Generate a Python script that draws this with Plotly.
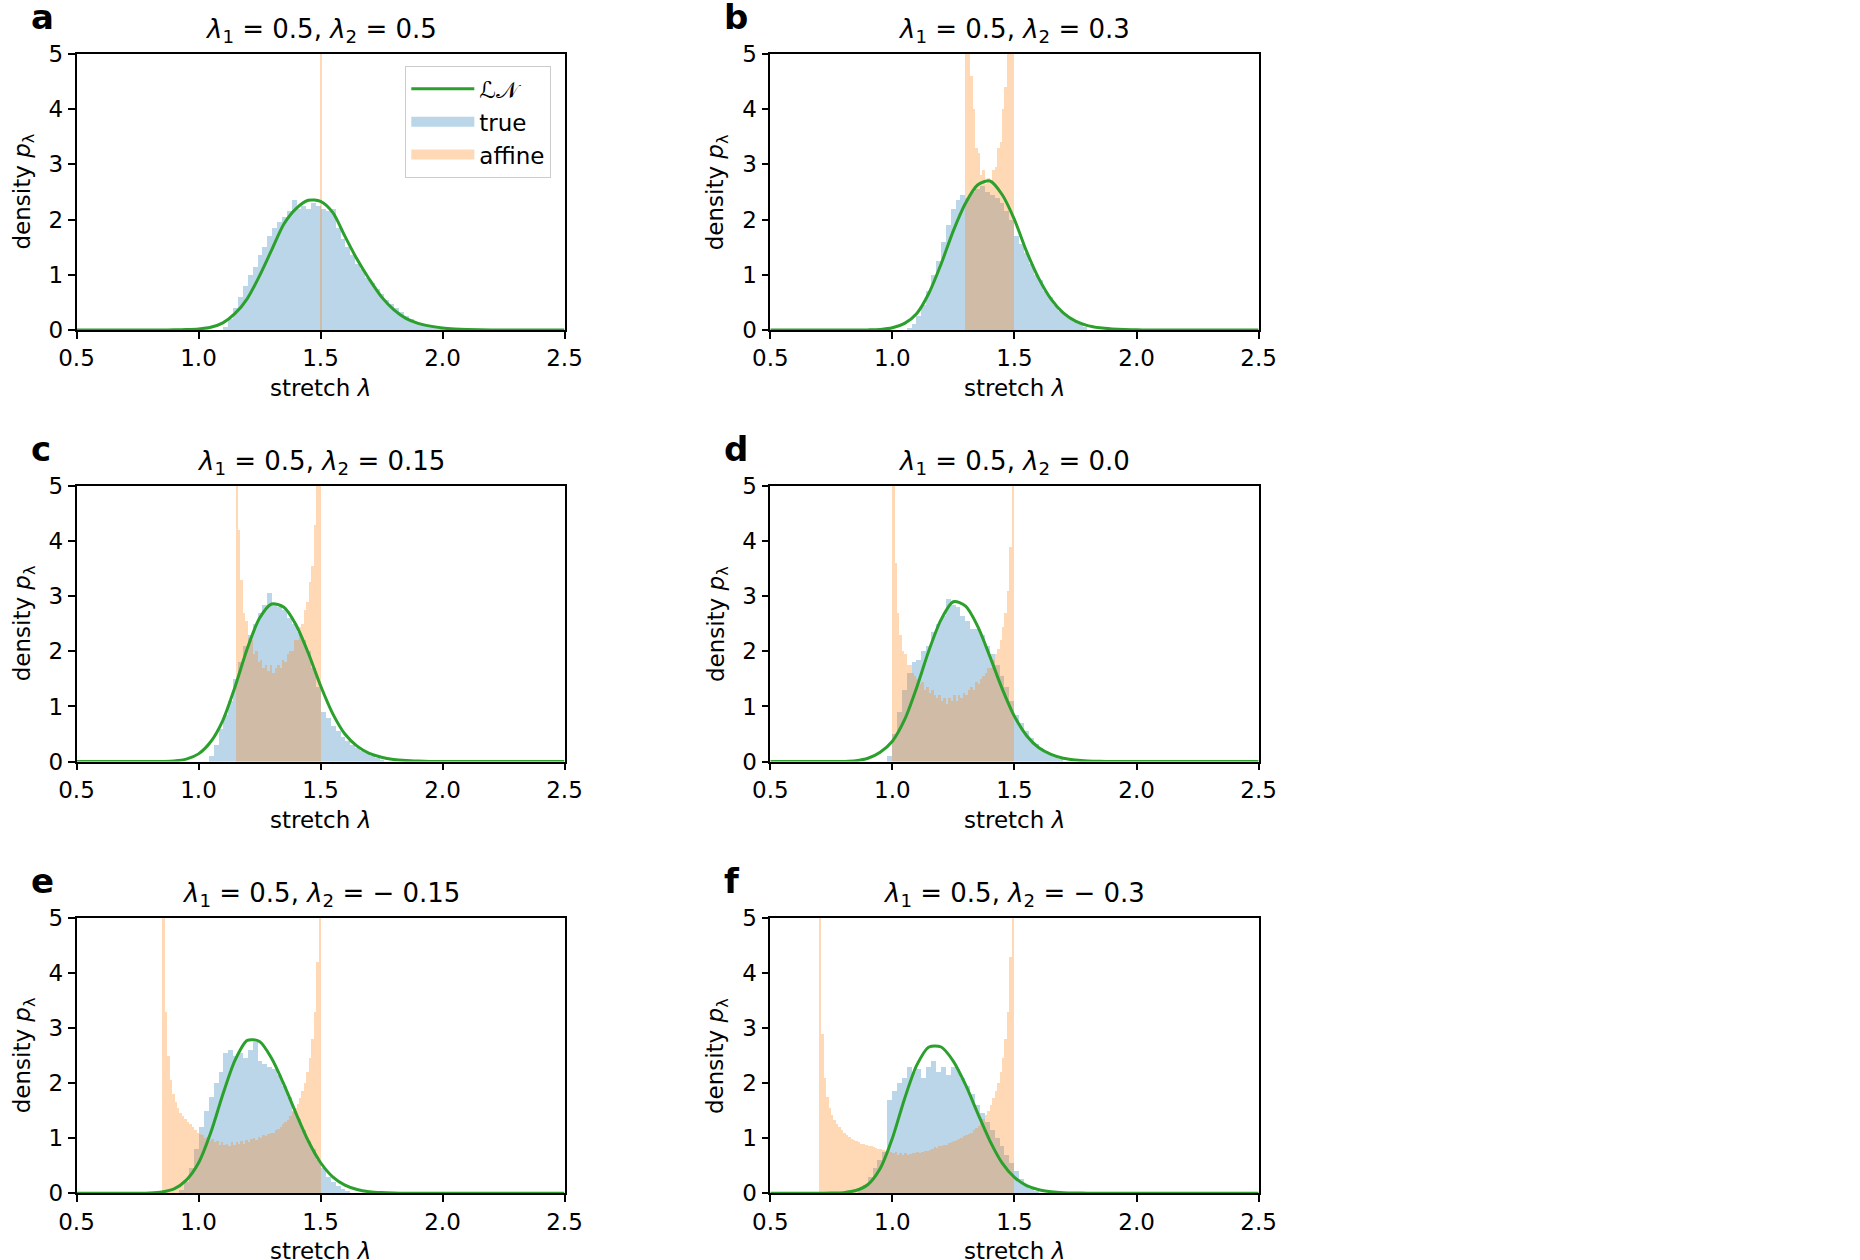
import plotly.graph_objects as go

W, H = 1860, 1260

# ---------------- data ----------------
PANEL_LETTERS = ["a", "b", "c", "d", "e", "f"]
LAMBDA1 = ["0.5", "0.5", "0.5", "0.5", "0.5", "0.5"]
LAMBDA2 = ["0.5", "0.3", "0.15", "0.0", "\u2212 0.15", "\u2212 0.3"]

X_TICKS = [0.5, 1.0, 1.5, 2.0, 2.5]
X_TICK_LABELS = ["0.5", "1.0", "1.5", "2.0", "2.5"]
Y_TICKS = [0, 1, 2, 3, 4, 5]
Y_TICK_LABELS = ["0", "1", "2", "3", "4", "5"]

LEGEND_NAMES = ["\u2112\U0001D4A9", "true", "affine"]

# log-normal fit curves, read at these stretch values
LN_X = [0.5, 0.6, 0.7, 0.75, 0.8, 0.85, 0.9, 0.95, 1.0, 1.05, 1.1, 1.15, 1.2, 1.25,
        1.3, 1.35, 1.4, 1.45, 1.5, 1.55, 1.6, 1.65, 1.7, 1.75, 1.8, 1.85, 1.9, 1.95,
        2.0, 2.05, 2.1, 2.2, 2.3, 2.4, 2.5]
LN_A = [0, 0, 0, 0, 0, 0.001, 0.003, 0.008, 0.02, 0.05, 0.13, 0.3, 0.57, 0.98,
        1.45, 1.92, 2.2, 2.35, 2.33, 2.13, 1.7, 1.28, 0.92, 0.6, 0.37, 0.21, 0.12, 0.07,
        0.035, 0.017, 0.008, 0.002, 0, 0, 0]
LN_B = [0, 0, 0, 0, 0, 0, 0.002, 0.01, 0.04, 0.12, 0.3, 0.67, 1.2, 1.8,
        2.3, 2.63, 2.7, 2.45, 2.0, 1.42, 0.93, 0.56, 0.31, 0.16, 0.08, 0.04, 0.02, 0.008,
        0.003, 0, 0, 0, 0, 0, 0]
LN_C = [0, 0, 0, 0, 0, 0.003, 0.012, 0.045, 0.14, 0.36, 0.75, 1.36, 2.05, 2.6,
        2.86, 2.8, 2.48, 1.97, 1.38, 0.87, 0.5, 0.28, 0.15, 0.08, 0.04, 0.02, 0.01, 0.004,
        0.002, 0, 0, 0, 0, 0, 0]
LN_D = [0, 0, 0, 0, 0.003, 0.015, 0.06, 0.17, 0.37, 0.76, 1.35, 2.02, 2.58, 2.9,
        2.82, 2.45, 1.9, 1.32, 0.82, 0.47, 0.25, 0.13, 0.06, 0.03, 0.013, 0.005, 0.002, 0,
        0, 0, 0, 0, 0, 0, 0]
LN_E = [0, 0, 0, 0.002, 0.007, 0.025, 0.08, 0.24, 0.55, 1.1, 1.8, 2.42, 2.78, 2.76,
        2.45, 1.98, 1.45, 0.95, 0.56, 0.3, 0.15, 0.07, 0.03, 0.013, 0.005, 0.002, 0, 0,
        0, 0, 0, 0, 0, 0, 0]
LN_F = [0, 0, 0.001, 0.004, 0.012, 0.05, 0.16, 0.45, 1.0, 1.72, 2.33, 2.66, 2.66, 2.4,
        1.97, 1.45, 0.95, 0.55, 0.29, 0.14, 0.065, 0.03, 0.012, 0.005, 0.002, 0, 0, 0,
        0, 0, 0, 0, 0, 0, 0]

# "true" histograms (bin width TRUE_BIN_W, first bin left edge TRUE_START)
TRUE_BIN_W = 0.02
TRUE_START = [1.10, 1.06, 1.04, 0.98, 0.92, 0.86]
TRUE_A = [0.05, 0.2, 0.4, 0.6, 0.8, 1.0, 1.15, 1.35, 1.5, 1.7, 1.85, 1.95, 2.05, 2.15, 2.35,
          2.2, 2.25, 2.2, 2.3, 2.25, 2.2, 2.15, 2.2, 1.85, 1.65, 1.5, 1.35, 1.2, 1.1, 0.95,
          0.85, 0.75, 0.65, 0.55, 0.47, 0.4, 0.32, 0.26, 0.2, 0.15, 0.11, 0.08, 0.05, 0.03, 0.02]
TRUE_B = [0.03, 0.1, 0.25, 0.45, 0.7, 1.0, 1.25, 1.6, 1.9, 2.2, 2.35, 2.45, 2.4, 2.5, 2.55,
          2.6, 2.5, 2.45, 2.4, 2.3, 2.15, 2.0, 1.7, 1.55, 1.4, 1.2, 1.0, 0.9, 0.7, 0.6,
          0.45, 0.35, 0.27, 0.2, 0.15, 0.1, 0.05]
TRUE_C = [0.1, 0.3, 0.6, 0.85, 1.1, 1.5, 1.8, 2.1, 2.3, 2.5, 2.7, 2.85, 3.05, 2.85, 2.8,
          2.75, 2.6, 2.5, 2.35, 2.2, 2.0, 1.7, 1.35, 0.9, 0.8, 0.65, 0.55, 0.45, 0.38, 0.3,
          0.25, 0.2, 0.15, 0.1, 0.06, 0.03]
TRUE_D = [0.1, 0.5, 0.9, 1.3, 1.6, 1.8, 1.85, 2.0, 2.1, 2.35, 2.5, 2.65, 2.95, 2.85, 2.8,
          2.65, 2.55, 2.4, 2.4, 2.3, 2.1, 1.95, 1.75, 1.55, 1.35, 1.1, 0.85, 0.7, 0.55, 0.42,
          0.32, 0.25, 0.18, 0.13, 0.09, 0.05]
TRUE_E = [0.05, 0.2, 0.45, 0.8, 1.2, 1.5, 1.75, 2.0, 2.2, 2.55, 2.6, 2.5, 2.55, 2.45, 2.6,
          2.75, 2.4, 2.35, 2.3, 2.25, 2.15, 1.95, 1.75, 1.5, 1.35, 1.15, 0.95, 0.8, 0.6, 0.45,
          0.3, 0.2, 0.12, 0.07, 0.03]
TRUE_F = [0.05, 0.15, 0.3, 0.45, 0.6, 0.75, 1.7, 1.85, 2.0, 2.1, 2.3, 2.2, 2.25, 2.1, 2.3,
          2.4, 2.2, 2.3, 2.15, 2.3, 2.25, 2.1, 1.95, 1.8, 1.6, 1.45, 1.3, 1.15, 1.0, 0.85,
          0.7, 0.55, 0.4, 0.25, 0.15, 0.08, 0.04]

# "affine" histograms (bin width AFF_BIN_W, first bin left edge AFF_START)
AFF_BIN_W = 0.01
AFF_START = [1.495, 1.30, 1.15, 1.00, 0.85, 0.70]
AFF_A = [60.0]
AFF_B = [9.0, 6.0, 4.6, 4.0, 3.3, 3.2, 2.8, 2.9, 2.65, 2.75, 2.7, 2.9, 2.95, 3.3, 3.4,
         4.0, 4.4, 5.6, 7.0, 9.0]
AFF_C = [8.0, 4.2, 3.3, 2.7, 2.55, 2.25, 2.2, 1.95, 2.0, 1.8, 1.85, 1.7, 1.75, 1.65, 1.75,
         1.6, 1.7, 1.75, 1.7, 1.85, 1.8, 1.95, 2.0, 2.0, 2.2, 2.2, 2.45, 2.5, 2.75, 2.9,
         3.25, 3.55, 4.3, 5.2, 8.0]
AFF_D = [8.0, 3.6, 2.7, 2.3, 2.0, 1.95, 1.75, 1.75, 1.6, 1.55, 1.5, 1.4, 1.45, 1.3, 1.35,
         1.25, 1.3, 1.2, 1.15, 1.2, 1.1, 1.15, 1.05, 1.15, 1.1, 1.2, 1.1, 1.2, 1.15, 1.25,
         1.2, 1.3, 1.35, 1.3, 1.45, 1.4, 1.5, 1.55, 1.6, 1.7, 1.7, 1.85, 1.95, 2.05, 2.2,
         2.45, 2.7, 3.1, 3.9, 7.5]
AFF_E = [8.0, 3.3, 2.5, 2.05, 1.8, 1.65, 1.55, 1.45, 1.4, 1.35, 1.3, 1.25, 1.2, 1.15, 1.1,
         1.08, 1.05, 1.0, 1.02, 0.95, 0.98, 0.92, 0.95, 0.88, 0.93, 0.87, 0.9, 0.86, 0.92, 0.88,
         0.93, 0.9, 0.95, 0.9, 0.96, 0.93, 0.98, 1.0, 0.96, 1.02, 1.0, 1.05, 1.03, 1.08, 1.1,
         1.1, 1.15, 1.16, 1.2, 1.25, 1.3, 1.33, 1.4, 1.48, 1.55, 1.62, 1.72, 1.85, 2.0, 2.2,
         2.45, 2.8, 3.3, 4.2, 7.5]
AFF_F = [8.0, 2.9, 2.1, 1.75, 1.55, 1.42, 1.33, 1.25, 1.2, 1.14, 1.1, 1.05, 1.02, 0.98, 0.96,
         0.94, 0.92, 0.9, 0.9, 0.88, 0.86, 0.85, 0.84, 0.82, 0.8, 0.8, 0.78, 0.76, 0.76, 0.75,
         0.72, 0.74, 0.7, 0.73, 0.69, 0.72, 0.7, 0.71, 0.73, 0.72, 0.74, 0.73, 0.75, 0.77, 0.76,
         0.79, 0.8, 0.83, 0.82, 0.85, 0.85, 0.87, 0.88, 0.91, 0.92, 0.95, 0.96, 0.99, 1.0, 1.03,
         1.05, 1.08, 1.1, 1.14, 1.18, 1.22, 1.28, 1.34, 1.42, 1.5, 1.6, 1.72, 1.85, 2.0, 2.2,
         2.45, 2.8, 3.3, 4.3, 8.0]

LN_ALL = [LN_A, LN_B, LN_C, LN_D, LN_E, LN_F]
TRUE_ALL = [TRUE_A, TRUE_B, TRUE_C, TRUE_D, TRUE_E, TRUE_F]
AFF_ALL = [AFF_A, AFF_B, AFF_C, AFF_D, AFF_E, AFF_F]

# ---------------- style / layout ----------------
FONT = "DejaVu Sans"
BLUE = "rgba(31,119,180,0.3)"
ORANGE = "rgba(255,127,14,0.3)"
GREEN = "#2ca02c"
TICK_SIZE = 23
LABEL_SIZE = 23
TITLE_SIZE = 26

COLS_PX = [(76.5, 564.5), (770.3, 1258.6)]
ROWS_PX = [(54.0, 330.0), (486.0, 761.6), (918.3, 1193.3)]

fig = go.Figure()
layout = dict(
    template="none",
    width=W, height=H,
    margin=dict(l=0, r=0, t=0, b=0, autoexpand=False),
    paper_bgcolor="white", plot_bgcolor="white",
    barmode="overlay", bargap=0,
    font=dict(family=FONT, size=LABEL_SIZE, color="black"),
    showlegend=True,
    legend=dict(x=405 / W, y=1 - 66 / H, xanchor="left", yanchor="top",
                bgcolor="rgba(255,255,255,0.8)", bordercolor="#cccccc", borderwidth=1.3,
                font=dict(family=FONT, size=LABEL_SIZE, color="black"), itemwidth=63,
                tracegroupgap=0),
)
annotations = []

for i in range(6):
    r, c = divmod(i, 2)
    x0, x1 = COLS_PX[c]
    ytop, ybot = ROWS_PX[r]
    sfx = "" if i == 0 else str(i + 1)
    xa, ya = "x" + sfx, "y" + sfx

    axis_common = dict(showline=True, linecolor="black", linewidth=1.6, mirror=True,
                       ticks="outside", ticklen=7, tickwidth=1.6, tickcolor="black",
                       showgrid=False, zeroline=False, automargin=False,
                       tickfont=dict(family=FONT, size=TICK_SIZE, color="black"))
    layout["xaxis" + sfx] = dict(domain=[x0 / W, x1 / W], range=[0.5, 2.5], anchor=ya,
                                 tickvals=X_TICKS, ticktext=X_TICK_LABELS, **axis_common)
    layout["yaxis" + sfx] = dict(domain=[1 - ybot / H, 1 - ytop / H], range=[0, 5], anchor=xa,
                                 tickvals=Y_TICKS, ticktext=Y_TICK_LABELS, **axis_common)

    tv = TRUE_ALL[i]
    tx = [TRUE_START[i] + TRUE_BIN_W * (k + 0.5) for k in range(len(tv))]
    fig.add_trace(go.Bar(x=tx, y=tv, width=TRUE_BIN_W, marker=dict(color=BLUE, line=dict(width=0)),
                         xaxis=xa, yaxis=ya, showlegend=False, hoverinfo="skip"))
    av = AFF_ALL[i]
    ax_ = [AFF_START[i] + AFF_BIN_W * (k + 0.5) for k in range(len(av))]
    fig.add_trace(go.Bar(x=ax_, y=av, width=AFF_BIN_W, marker=dict(color=ORANGE, line=dict(width=0)),
                         xaxis=xa, yaxis=ya, showlegend=False, hoverinfo="skip"))
    fig.add_trace(go.Scatter(x=LN_X, y=LN_ALL[i], mode="lines",
                             line=dict(color=GREEN, width=3, shape="spline", smoothing=0.8),
                             xaxis=xa, yaxis=ya, showlegend=False, hoverinfo="skip"))

    cx = (x0 + x1) / 2
    # title
    annotations.append(dict(
        text="<i>\u03bb</i><sub>1</sub> = " + LAMBDA1[i] + ", <i>\u03bb</i><sub>2</sub> = " + LAMBDA2[i],
        x=cx / W, y=1 - (ytop - 24) / H, xref="paper", yref="paper",
        xanchor="center", yanchor="middle", showarrow=False,
        font=dict(family=FONT, size=TITLE_SIZE, color="black")))
    # panel letter
    annotations.append(dict(
        text="<b>" + PANEL_LETTERS[i] + "</b>", x=(x0 - 48) / W, y=1 - (ytop - 37) / H,
        xref="paper", yref="paper", xanchor="left", yanchor="middle", showarrow=False,
        font=dict(family=FONT, size=34, color="black")))
    # x axis title
    annotations.append(dict(
        text="stretch <i>\u03bb</i>", x=cx / W, y=1 - (ybot + 58) / H, xref="paper", yref="paper",
        xanchor="center", yanchor="middle", showarrow=False,
        font=dict(family=FONT, size=LABEL_SIZE, color="black")))
    # y axis title
    annotations.append(dict(
        text="density <i>p</i><sub>\u03bb</sub>", x=(x0 - 53) / W, y=1 - ((ytop + ybot) / 2) / H,
        xref="paper", yref="paper", xanchor="center", yanchor="middle", textangle=-90,
        showarrow=False, font=dict(family=FONT, size=LABEL_SIZE, color="black")))

# legend proxies (drawn in panel a)
fig.add_trace(go.Scatter(x=[None], y=[None], mode="lines", name=LEGEND_NAMES[0],
                         line=dict(color=GREEN, width=3), xaxis="x", yaxis="y"))
fig.add_trace(go.Scatter(x=[None], y=[None], mode="lines", name=LEGEND_NAMES[1],
                         line=dict(color=BLUE, width=16), xaxis="x", yaxis="y"))
fig.add_trace(go.Scatter(x=[None], y=[None], mode="lines", name=LEGEND_NAMES[2],
                         line=dict(color=ORANGE, width=16), xaxis="x", yaxis="y"))

layout["annotations"] = annotations
fig.update_layout(**layout)
fig.write_html("out.html")
